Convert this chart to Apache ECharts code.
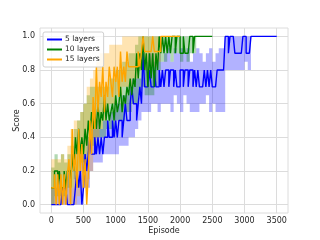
<!DOCTYPE html>
<html>
<head>
<meta charset="utf-8">
<script src="https://cdn.jsdelivr.net/npm/echarts@6/dist/echarts.min.js"></script>
<style>html,body{margin:0;padding:0;background:#fff;}#c{width:320px;height:240px;}</style>
</head>
<body>
<div id="c"></div>
<script>
// ---- data ----
const seriesNames = ['5 layers', '10 layers', '15 layers'];
const lineEpisodeStep = 25;   // episodes between line samples
const bandEpisodeStep = 50;   // episodes between band samples
const xTicks = [0, 500, 1000, 1500, 2000, 2500, 3000, 3500];
const yTicks = [0, 0.2, 0.4, 0.6, 0.8, 1.0];

const blueLine = [
  0, 0, 0, 0,   0, 0, 0, 0.1,   0.1, 0.1, 0, 0,   0, 0, 0, 0.1,
  0.2, 0.1, 0.2, 0,   0.1, 0.3, 0.2, 0.3,   0.4, 0.3, 0.3, 0.4,   0.3, 0.4, 0.3, 0.4,
  0.3, 0.4, 0.4, 0.5,   0.4, 0.4, 0.5, 0.4,   0.5, 0.4, 0.5, 0.5,   0.4, 0.5, 0.6, 0.5,
  0.5, 0.6, 0.7, 0.6,   0.6, 0.5, 0.6, 0.7,   0.6, 0.9, 0.7, 0.7,   0.7, 0.8, 0.7, 0.7,
  0.8, 0.7, 0.7, 0.8,   0.7, 0.8, 0.7, 0.8,   0.8, 0.7, 0.8, 0.8,   0.7, 0.8, 0.7, 0.7,
  0.8, 0.8, 0.7, 0.8,   0.8, 0.7, 0.8, 0.8,   0.7, 0.8, 0.7, 0.8,   0.7, 0.7, 0.7, 0.8,
  0.7, 0.8, 0.7, 0.8,   0.7, 0.7, 0.7, 0.8,   0.8, 0.8, 0.8, 0.8,   1.0, 1.0, 0.9, 1.0,
  1.0, 1.0, 0.9, 0.9,   0.9, 0.9, 0.9, 1.0,   1.0, 0.9, 0.9, 0.9,   1, 1, 1, 1,
  1, 1, 1, 1,   1, 1, 1, 1,   1, 1, 1, 1,   1
];
const blueLow = [
  0, 0, 0, 0, 0, 0, 0, 0, 0, 0,
  0.1, 0.1, 0.2, 0.25, 0.25, 0.25, 0.3, 0.3, 0.3, 0.3,
  0.3, 0.35, 0.35, 0.35, 0.4, 0.4, 0.45, 0.5, 0.55, 0.55,
  0.55, 0.6, 0.6, 0.55, 0.6, 0.6, 0.6, 0.55, 0.65, 0.6,
  0.55, 0.65, 0.6, 0.55, 0.55, 0.55, 0.6, 0.6, 0.65, 0.55,
  0.6, 0.55, 0.55, 0.55, 0.8, 0.8, 0.8, 0.8, 0.8, 0.8,
  0.85, 0.8, 1, 1, 1, 1, 1, 1, 1, 1, 1
];
const blueHigh = [
  0.1, 0.1, 0.15, 0.1, 0.15, 0.2, 0.1, 0.2, 0.2, 0.3,
  0.3, 0.4, 0.45, 0.45, 0.5, 0.45, 0.5, 0.5, 0.55, 0.55,
  0.6, 0.6, 0.65, 0.65, 0.7, 0.75, 0.75, 0.75, 0.8, 0.85,
  0.9, 0.9, 0.85, 0.9, 0.85, 0.9, 0.93, 0.85, 0.93, 0.9,
  0.93, 0.9, 0.93, 0.85, 0.9, 0.93, 0.9, 0.85, 0.9, 0.93,
  0.85, 0.9, 0.93, 0.93, 1.0, 1.0, 1.0, 1.0, 1.0, 1.0,
  1.0, 1.0, 1, 1, 1, 1, 1, 1, 1, 1, 1
];

const greenLine = [
  0.1, 0.1, 0.2, 0.2,   0.1, 0.2, 0.1, 0.1,   0.2, 0.1, 0.2, 0.2,
  0.1, 0.3, 0.2, 0.4,   0.3, 0.45, 0.3, 0.4,   0.3, 0.45, 0.35, 0.5,
  0.4, 0.55, 0.45, 0.55,   0.45, 0.6, 0.45, 0.55,   0.5, 0.65, 0.5, 0.6,
  0.5, 0.55, 0.6, 0.5,   0.65, 0.55, 0.6, 0.7,   0.55, 0.65, 0.6, 0.7,
  0.65, 0.75, 0.65, 0.75,   0.7, 0.9, 0.75, 0.9,   0.8, 1.0, 0.8, 0.9,
  0.7, 0.9, 0.75, 0.9,   0.7, 0.9, 0.8, 1.0,   0.9, 1.0, 0.9, 1.0,
  0.9, 1.0, 0.9, 1.0,   1.0, 0.9, 1.0, 1.0,   0.9, 0.9, 1.0, 0.9,
  0.9, 0.9, 1.0, 1.0,   0.9, 1.0, 1, 1,   1, 1, 1, 1,   1, 1, 1, 1,   1
];
const greenLow = [
  0, 0.05, 0.05, 0.05, 0.05, 0.1, 0.1, 0.15, 0.2, 0.25,
  0.25, 0.3, 0.35, 0.35, 0.4, 0.4, 0.4, 0.45, 0.45, 0.45,
  0.5, 0.5, 0.5, 0.55, 0.55, 0.6, 0.6, 0.65, 0.7, 0.65,
  0.65, 0.65, 0.7, 0.8, 0.85, 0.85, 0.9, 0.85, 0.9, 0.9,
  0.85, 0.9, 0.85, 0.9, 0.9, 1, 1, 1, 1, 1, 1
];
const greenHigh = [
  0.22, 0.3, 0.25, 0.3, 0.25, 0.3, 0.35, 0.45, 0.5, 0.55,
  0.6, 0.65, 0.7, 0.7, 0.7, 0.7, 0.7, 0.7, 0.75, 0.75,
  0.8, 0.8, 0.85, 0.85, 0.9, 0.9, 0.95, 1.0, 1.0, 1.0,
  1.0, 1.0, 1.0, 1.0, 1.0, 1.0, 1.0, 1.0, 1.0, 1.0,
  1.0, 1.0, 1.0, 1.0, 1.0, 1, 1, 1, 1, 1, 1
];

const orangeLine = [
  0.1, 0.1, 0.18, 0,   0.18, 0, 0.18, 0,   0.18, 0, 0.18, 0.27,
  0, 0.45, 0.2, 0.3,   0.1, 0.45, 0.2, 0.36,   0.1, 0.27, 0, 0.18,
  0.5, 0.3, 0.64, 0.45,   0.82, 0.55, 0.73, 0.64,   0.82, 0.55, 0.73, 0.64,
  0.82, 0.73, 0.64, 0.82,   0.73, 0.82, 0.64, 0.91,   0.73, 0.82, 0.73, 0.91,
  0.82, 0.82, 0.82, 0.82,   0.82, 0.82, 0.91, 0.82,   0.91, 1.0, 0.91, 0.91,
  0.91, 0.91, 0.91, 1.0,   0.91, 0.91, 0.91, 0.91,   1, 1, 1, 1,
  1, 1, 1, 1,   1, 1, 1, 1,   1
];
const orangeLow = [
  0, 0, 0, 0, 0, 0, 0, 0, 0.05, 0.1,
  0.1, 0.15, 0.2, 0.3, 0.4, 0.45, 0.5, 0.55, 0.6, 0.6,
  0.65, 0.65, 0.7, 0.7, 0.7, 0.75, 0.75, 0.8, 0.8, 0.8,
  0.8, 0.82, 0.82, 0.85, 1, 1, 1, 1, 1, 1, 1
];
const orangeHigh = [
  0.27, 0.27, 0.27, 0.3, 0.27, 0.35, 0.45, 0.5, 0.5, 0.55,
  0.6, 0.7, 0.75, 0.8, 0.85, 0.9, 0.9, 0.9, 0.95, 0.95,
  0.95, 0.95, 1.0, 1.0, 1.0, 1.0, 1.0, 1.0, 1.0, 1.0,
  1.0, 1.0, 1.0, 1.0, 1, 1, 1, 1, 1, 1, 1
];

// ---- build ----
const colors = ['#0000ff', '#008000', '#ffa500'];
const bandColors = ['rgba(0,0,255,0.3)', 'rgba(0,128,0,0.3)', 'rgba(255,165,0,0.3)'];
const lines = [blueLine, greenLine, orangeLine];
const lows = [blueLow, greenLow, orangeLow];
const highs = [blueHigh, greenHigh, orangeHigh];

function bandSeries(k) {
  const low = lows[k], high = highs[k];
  const rows = low.map((v, i) => [i * bandEpisodeStep, v, high[i]]);
  return {
    name: seriesNames[k] + ' band', type: 'custom', silent: true,
    encode: { x: 0, y: [1, 2] },
    data: rows,
    renderItem: function (params, api) {
      if (params.dataIndex !== 0) return null;
      const n = rows.length;
      const top = [], bot = [];
      for (let i = 0; i < n; i++) {
        const x0 = rows[i][0];
        const x1 = i < n - 1 ? rows[i + 1][0] : rows[i][0];
        top.push(api.coord([x0, rows[i][2]]));
        top.push(api.coord([x1, rows[i][2]]));
        bot.push(api.coord([x0, rows[i][1]]));
        bot.push(api.coord([x1, rows[i][1]]));
      }
      const pts = top.concat(bot.reverse());
      return {
        type: 'polygon',
        shape: { points: pts },
        style: { fill: bandColors[k], stroke: null }
      };
    }
  };
}

const series = [];
for (let k = 0; k < 3; k++) {
  series.push(bandSeries(k));
  series.push({
    name: seriesNames[k], type: 'line', step: 'end',
    data: lines[k].map((v, i) => [i * lineEpisodeStep, v]),
    symbol: 'none', lineStyle: { color: colors[k], width: 1.4 },
    itemStyle: { color: colors[k] }
  });
}

const font = 'DejaVu Sans';
const chart = echarts.init(document.getElementById('c'), null, { renderer: 'canvas' });
chart.setOption({
  animation: false,
  backgroundColor: '#fff',
  grid: { left: 40, right: 32, top: 28, bottom: 27, show: true, borderColor: '#dcdcdc', borderWidth: 1,
    backgroundColor: '#fff', containLabel: false, outerBoundsMode: 'none' },
  legend: {
    data: seriesNames, orient: 'vertical', left: 43, top: 32,
    icon: 'rect', itemWidth: 15, itemHeight: 2, itemGap: 1,
    padding: [3, 4, 3, 4],
    backgroundColor: 'rgba(255,255,255,0.8)', borderColor: '#d0d0d0', borderWidth: 1, borderRadius: 2,
    textStyle: { fontFamily: font, fontSize: 7.5, color: '#262626', lineHeight: 9, padding: [0, 0, 0, -2] }
  },
  xAxis: {
    type: 'value', min: -175, max: 3675,
    name: 'Episode', nameLocation: 'middle', nameGap: 14, nameMoveOverlap: false,
    nameTextStyle: { fontFamily: font, fontSize: 8, color: '#262626' },
    axisLine: { show: false },
    axisTick: { show: false, customValues: xTicks },
    axisLabel: { customValues: xTicks, fontFamily: font, fontSize: 8, color: '#262626', margin: 4,
      formatter: v => String(v) },
    splitLine: { show: true, lineStyle: { color: '#dcdcdc', width: 1 } }
  },
  yAxis: {
    type: 'value', min: -0.05, max: 1.05,
    name: 'Score', nameLocation: 'middle', nameGap: 19, nameMoveOverlap: false,
    nameTextStyle: { fontFamily: font, fontSize: 8, color: '#262626' },
    axisLine: { show: false },
    axisTick: { show: false, customValues: yTicks },
    axisLabel: { customValues: yTicks, fontFamily: font, fontSize: 8, color: '#262626', margin: 5,
      formatter: v => v.toFixed(1) },
    splitLine: { show: true, lineStyle: { color: '#dcdcdc', width: 1 } }
  },
  series: series
});
</script>
</body>
</html>
